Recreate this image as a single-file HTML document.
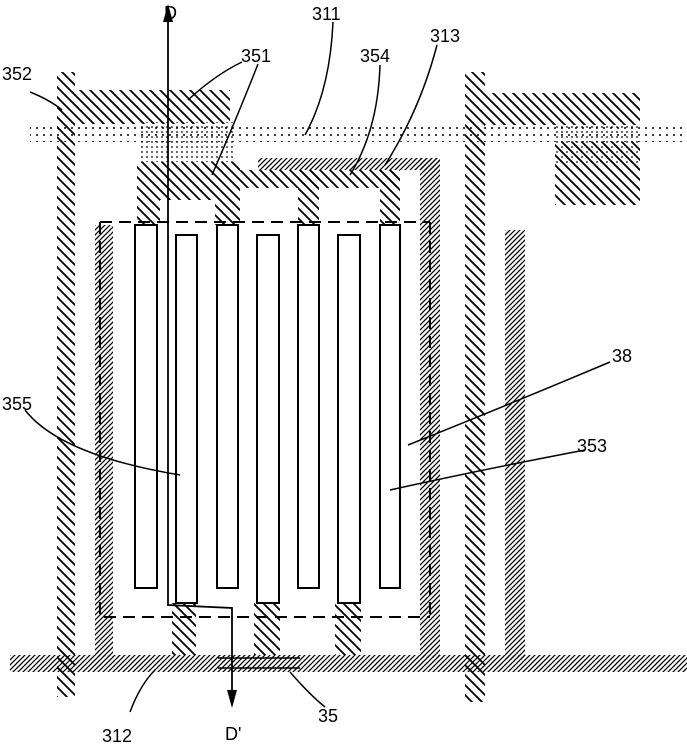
<!DOCTYPE html>
<html><head><style>html,body{margin:0;padding:0;background:#fff}svg{display:block}text{font-family:"Liberation Sans",sans-serif;font-size:18px;fill:#000}</style></head>
<body>
<svg width="687" height="746" viewBox="0 0 687 746" xmlns="http://www.w3.org/2000/svg">
<defs>
<pattern id="bk" width="10" height="10" patternUnits="userSpaceOnUse"><path d="M-2,-2 L12,12 M-2,8 L2,12 M8,-2 L12,2" stroke="#000" stroke-width="1.8"/></pattern>
<pattern id="fw" width="5" height="5" patternUnits="userSpaceOnUse"><path d="M-1,6 L6,-1 M-1,1 L1,-1 M4,6 L6,4" stroke="#000" stroke-width="1.3"/></pattern>
<pattern id="dt" width="7" height="7" patternUnits="userSpaceOnUse"><circle cx="2" cy="2" r="1" fill="#000"/></pattern>
<pattern id="dt2" width="5" height="5" patternUnits="userSpaceOnUse"><circle cx="2" cy="2" r="0.9" fill="#000"/></pattern>
</defs>
<rect x="30" y="124" width="657" height="18" fill="url(#dt)"/>
<rect x="140" y="122" width="95" height="40" fill="url(#dt2)"/>
<rect x="555" y="124" width="85" height="42" fill="url(#dt2)"/>
<rect x="57" y="72" width="18" height="625" fill="url(#bk)"/>
<rect x="75" y="90" width="155" height="34" fill="url(#bk)"/>
<rect x="137" y="162" width="103" height="63" fill="url(#bk)"/>
<rect x="240" y="170" width="160" height="18" fill="url(#bk)"/>
<rect x="298" y="170" width="21" height="55" fill="url(#bk)"/>
<rect x="380" y="170" width="20" height="55" fill="url(#bk)"/>
<rect x="160" y="200" width="55" height="25" fill="#fff"/>
<rect x="172" y="603" width="24" height="52" fill="url(#bk)"/>
<rect x="254" y="603" width="26" height="52" fill="url(#bk)"/>
<rect x="335" y="603" width="26" height="52" fill="url(#bk)"/>
<rect x="258" y="158" width="182" height="12" fill="url(#fw)"/>
<rect x="420" y="158" width="20" height="500" fill="url(#fw)"/>
<rect x="95" y="225" width="18" height="432" fill="url(#fw)"/>
<rect x="10" y="655" width="677" height="17" fill="url(#fw)"/>
<rect x="465" y="72" width="20" height="630" fill="url(#bk)"/>
<rect x="485" y="93" width="155" height="32" fill="url(#bk)"/>
<rect x="555" y="142" width="85" height="63" fill="url(#bk)"/>
<rect x="505" y="230" width="20" height="430" fill="url(#fw)"/>
<g fill="#fff" stroke="#000" stroke-width="2">
<rect x="135" y="225" width="22" height="363"/>
<rect x="217" y="225" width="21" height="363"/>
<rect x="298" y="225" width="21" height="363"/>
<rect x="380" y="225" width="20" height="363"/>
<rect x="176" y="235" width="21" height="368"/>
<rect x="257" y="235" width="22" height="368"/>
<rect x="338" y="235" width="22" height="368"/>
</g>
<path d="M100,222 H430 M100,222 V617 H430 M430,222 V617" fill="none" stroke="#000" stroke-width="2" stroke-dasharray="12,7"/>
<path d="M218,658 H300 M218,668 H300" stroke="#000" stroke-width="1.5"/>
<path d="M168,20 V605 L232,608 V695" fill="none" stroke="#000" stroke-width="1.8"/>
<path d="M163,22 L168,4 L173,22 Z M227,690 L232,708 L237,690 Z" fill="#000"/>
<g fill="none" stroke="#000" stroke-width="1.5">
<path d="M30,92 Q50,100 62,110"/>
<path d="M242,62 Q215,75 188,100"/>
<path d="M258,64 Q240,110 212,175"/>
<path d="M333,22 Q330,90 305,135"/>
<path d="M380,65 Q378,130 350,175"/>
<path d="M437,45 Q420,110 385,165"/>
<path d="M610,362 Q520,400 408,445"/>
<path d="M585,450 Q480,470 390,490"/>
<path d="M25,410 Q60,455 180,475"/>
<path d="M130,712 Q140,685 155,670"/>
<path d="M325,707 Q310,695 290,672"/>
</g>
<text x="164" y="19">D</text>
<text x="312" y="20">311</text>
<text x="241" y="62">351</text>
<text x="360" y="62">354</text>
<text x="430" y="42">313</text>
<text x="2" y="80">352</text>
<text x="612" y="362">38</text>
<text x="577" y="452">353</text>
<text x="2" y="410">355</text>
<text x="102" y="742">312</text>
<text x="225" y="740">D'</text>
<text x="318" y="722">35</text>
</svg>
</body></html>
